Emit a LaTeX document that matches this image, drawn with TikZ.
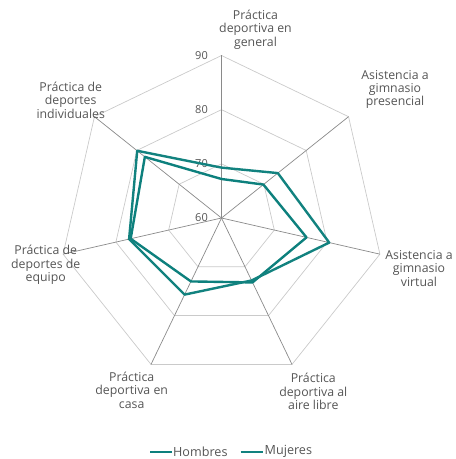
\documentclass[tikz,border=0pt]{standalone}
\usepackage{fontspec}
\setmainfont{Open Sans}
\usetikzlibrary{calc}
\definecolor{teal1}{HTML}{0D807D}
\definecolor{teal2}{HTML}{12827F}
\definecolor{ringgray}{HTML}{CACACA}
\definecolor{spokegray}{HTML}{8A8A8A}
\definecolor{txtgray}{HTML}{555555}
\tikzset{
  ring/.style={draw=ringgray, line width=0.7pt, line join=round},
  spoke/.style={draw=spokegray, line width=0.7pt},
  series/.style={line width=2.4pt, line join=round},
  axlabel/.style={align=center, text=txtgray, font=\fontsize{12.3}{13.4}\selectfont, inner sep=0pt},
  ticklabel/.style={anchor=east, text=txtgray, font=\fontsize{11}{12}\selectfont, inner sep=0pt},
  legtext/.style={anchor=west, text=txtgray, font=\fontsize{12.6}{13.5}\selectfont, inner sep=0pt},
}
\begin{document}
\begin{tikzpicture}[x=1pt,y=1pt]
\useasboundingbox (0,0) rectangle (456,459);
\coordinate (O) at (221.5,241);
% rings
\foreach \lv/\r in {70/54.17,80/108.33,90/162.5}{
  \draw[ring] ([shift={(O)}]90:\r)
    \foreach \k in {1,...,6}{ -- ([shift={(O)}]{90-\k*360/7}:\r) } -- cycle;
}
% spokes
\foreach \k in {0,...,6}{
  \coordinate (ax\k) at ([shift={(O)}]{90-\k*360/7}:162.5);
  \draw[spoke] (O) -- (ax\k);
}
% tick labels
\node[ticklabel] (t90) at (208,403) {90};
\node[ticklabel] (t80) at (208,349) {80};
\node[ticklabel] (t70) at (208,295) {70};
\node[ticklabel] (t60) at (208,241) {60};
% data
\def\sc{5.4167}
\foreach \k/\v in {0/69.3,1/73.3,2/80.4,3/72.8,4/75.7,5/77.5,6/79.9}{
  \coordinate (m\k) at ([shift={(O)}]{90-\k*360/7}:{(\v-60)*\sc});
}
\foreach \k/\v in {0/67.2,1/69.9,2/76.1,3/73.2,4/73.0,5/77.2,6/78.1}{
  \coordinate (h\k) at ([shift={(O)}]{90-\k*360/7}:{(\v-60)*\sc});
}
\draw[series, teal1] (h0) -- (h1) -- (h2) -- (h3) -- (h4) -- (h5) -- (h6) -- cycle;
\draw[series, teal2] (m0) -- (m1) -- (m2) -- (m3) -- (m4) -- (m5) -- (m6) -- cycle;
% axis labels
\node[axlabel] (l0) at (255.5,429.5) {Práctica\\deportiva en\\general};
\node[axlabel] (l1) at (395,369.5) {Asistencia a\\gimnasio\\presencial};
\node[axlabel] (l2) at (419,190.5) {Asistencia a\\gimnasio\\virtual};
\node[axlabel] (l3) at (313.3,67.5) {Práctica\\deportiva al\\aire libre};
\node[axlabel] (l4) at (131.7,69) {Práctica\\deportiva en\\casa};
\node[axlabel] (l5) at (45.7,194) {Práctica de\\deportes de\\equipo};
\node[axlabel] (l6) at (70.7,359) {Práctica de\\deportes\\individuales};
% legend
\coordinate (lh1) at (150,7);
\coordinate (lh2) at (172,7);
\coordinate (lm1) at (240.5,7);
\coordinate (lm2) at (263,7);
\draw[series, teal1] (lh1) -- (lh2);
\draw[series, teal2] (lm1) -- (lm2);
\node[legtext] (lgh) at (173,7.3) {Hombres};
\node[legtext] (lgm) at (264.5,7.3) {Mujeres};
\end{tikzpicture}
\end{document}
